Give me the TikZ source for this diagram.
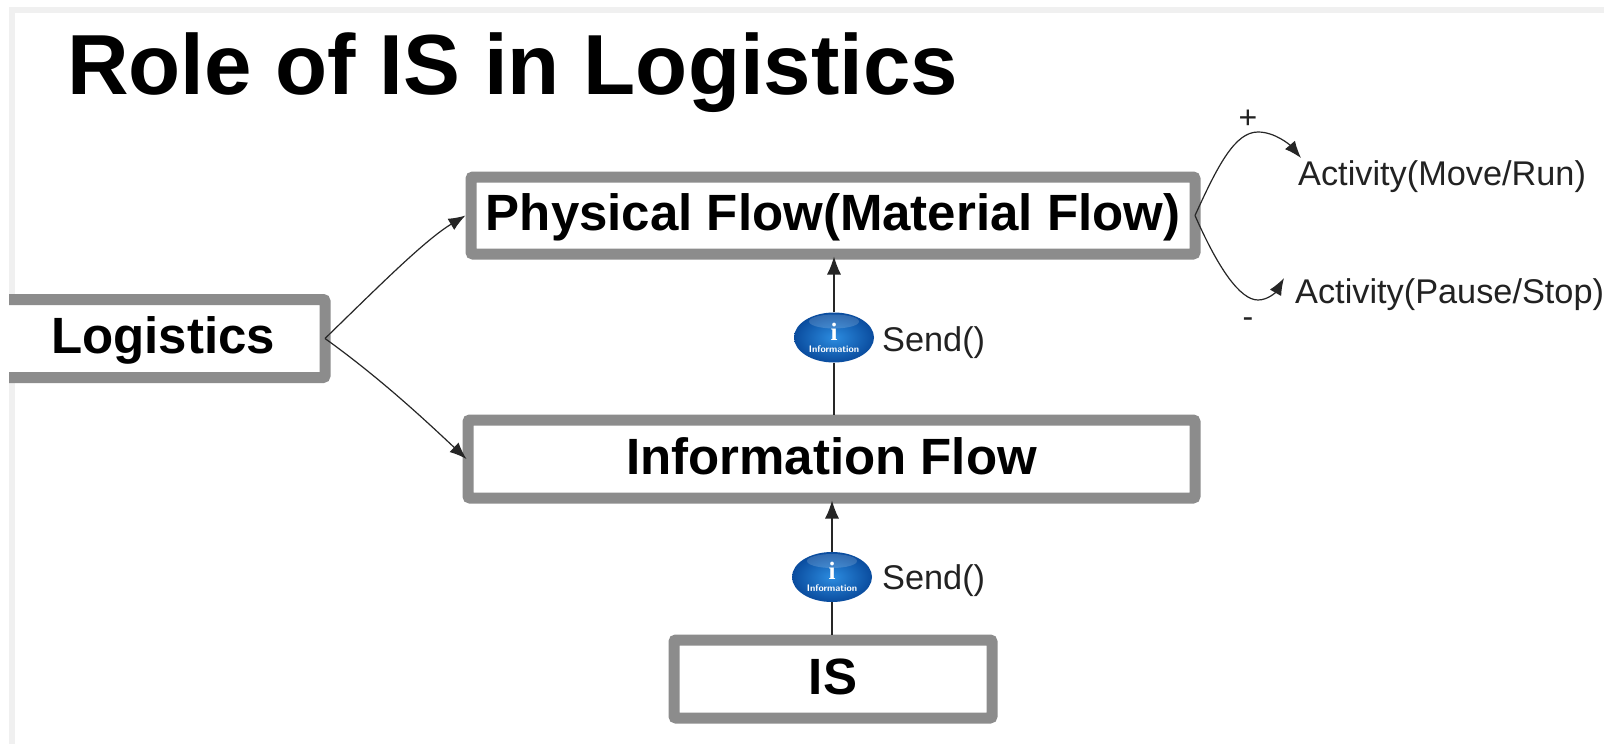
\documentclass[tikz,border=0pt]{standalone}
\usepackage{fontspec}
\setmainfont{Liberation Sans}
\newfontfamily\ballfont{Liberation Serif}
\usetikzlibrary{arrows.meta, shapes.geometric}

\definecolor{boxgrey}{HTML}{8C8C8C}
\definecolor{framegrey}{HTML}{F0F0F0}
\definecolor{balldark}{HTML}{0A4C9E}
\definecolor{balllight}{HTML}{2C8CE0}
\definecolor{inktext}{HTML}{222222}

\tikzset{
    flowbox/.style={draw=boxgrey, line width=11pt, rounded corners=2pt, fill=white, inner sep=0pt, text height=40pt, text depth=10pt, font=\fontsize{51}{51}\selectfont\bfseries},
    infoball/.style={ellipse, inner sep=0pt, minimum width=80pt, minimum height=50pt, shade, inner color=balllight, outer color=balldark, text=white, align=center,
        path picture={\fill[white, opacity=0.16] (path picture bounding box.north) ++(0,9) ellipse (25 and 7);}},
    flowline/.style={draw=black!85, line width=1.2pt},
    flowarrow/.style={flowline, -{Latex[length=18pt, width=14pt]}, shorten >=-3pt},
    sidearrow/.style={flowline, -{Latex[length=17pt, width=13pt]}},
    smalltext/.style={text=inktext, inner sep=0pt, font=\fontsize{34.3}{34}\selectfont},
    signtext/.style={text=inktext, inner sep=0pt, anchor=base, font=\fontsize{32}{32}\selectfont},
}

\begin{document}
\begin{tikzpicture}[x=1pt, y=-1pt]
            \useasboundingbox (0,0) rectangle (1604,744);
            \fill[white] (0,0) rectangle (1604,744);
            \fill[framegrey] (9,7) rectangle (1604,13);
            \fill[framegrey] (9,7) rectangle (15,744);

            \coordinate (T) at (67,94);
            \coordinate (L) at (163,338.5);
            \coordinate (P) at (833,215.5);
            \coordinate (F) at (831.5,459);
            \coordinate (S) at (833,679);
            \coordinate (I) at (834,337.5);
            \coordinate (J) at (832,577);
            \coordinate (M) at (1298,185);
            \coordinate (N) at (1295,303);
            \coordinate (U) at (882,351);
            \coordinate (V) at (882,589);
            \coordinate (Mtip) at (1301,158);
            \coordinate (Ntip) at (1284,278);

            \node at (T) [anchor=base west, inner sep=0pt, font=\fontsize{85.3}{85}\selectfont\bfseries] (title) {Role of IS in Logistics};
            \begin{scope}
                \clip (9,0) rectangle (1604,744);
                \node at (L) [flowbox, minimum width=324pt, minimum height=78pt] (logistics) {Logistics};
            \end{scope}
            \node at (P) [flowbox, minimum width=724pt, minimum height=77pt] (physical) {Physical Flow(Material Flow)};
            \node at (F) [flowbox, minimum width=727pt, minimum height=78pt] (information) {Information Flow};
            \node at (S) [flowbox, minimum width=318pt, minimum height=78pt] (is) {IS};
            \node at (I) [infoball] (ballupper) {\ballfont\fontsize{25}{25}\selectfont\bfseries i\\\sffamily\fontsize{9.5}{17}\selectfont\bfseries Information};
            \node at (J) [infoball] (balllower) {\ballfont\fontsize{25}{25}\selectfont\bfseries i\\\sffamily\fontsize{9.5}{17}\selectfont\bfseries Information};
            \node at (U) [smalltext, anchor=base west] (sendupper) {Send()};
            \node at (V) [smalltext, anchor=base west] (sendlower) {Send()};
            \node at (M) [smalltext, anchor=base west] (move) {Activity(Move/Run)};
            \node at (N) [smalltext, anchor=base west] (pause) {Activity(Pause/Stop)};
            \node at (1248,128) [signtext] (plus) {+};
            \node at (1248,327) [signtext] (minus) {-};

            \draw[sidearrow] ([xshift=-5.5pt]logistics.east) .. controls (380,285) and (425,240) .. (physical.west);
            \draw[sidearrow] ([xshift=-5.5pt]logistics.east) .. controls (380,378) and (425,420) .. ([xshift=4pt]information.west);
            \draw[sidearrow] ([xshift=-5.5pt]physical.east) .. controls (1218,165) and (1235,132) .. (1258,132) .. controls (1275,132) and (1290,145) .. (Mtip);
            \draw[sidearrow] ([xshift=-5.5pt]physical.east) .. controls (1218,268) and (1240,300) .. (1258,300) .. controls (1268,300) and (1276,292) .. (Ntip);
            \draw[flowline] (is.north -| balllower) -- (balllower);
            \draw[flowarrow] (balllower) -- (balllower |- information.south);
            \draw[flowline] (information.north -| ballupper) -- (ballupper);
            \draw[flowarrow] (ballupper) -- (ballupper |- physical.south);
        \end{tikzpicture}
\end{document}
